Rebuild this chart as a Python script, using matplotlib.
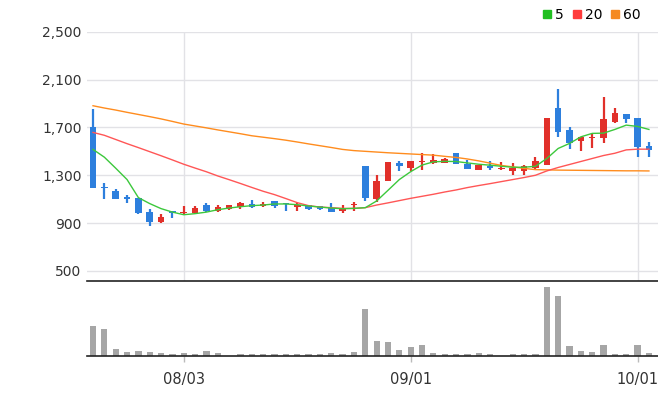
import matplotlib.pyplot as plt
from matplotlib.lines import Line2D

# dados (50 pregões)
abertura = [1700, 1205, 1166, 1118, 1110, 990, 908, 998, 981, 984,
            1048, 1001, 1020, 1034, 1063, 1043, 1082, 1071, 1034, 1048,
            1046, 1029, 998, 1054, 1375, 1101, 1252, 1406, 1361, 1409,
            1406, 1406, 1484, 1398, 1344, 1375, 1353, 1339, 1339, 1361,
            1386, 1862, 1677, 1588, 1610, 1613, 1747, 1812, 1778, 1543]
maxima = [1853, 1239, 1182, 1132, 1110, 1015, 973, 998, 1040, 1040,
          1068, 1048, 1052, 1076, 1090, 1073, 1082, 1071, 1065, 1048,
          1046, 1065, 1048, 1073, 1375, 1300, 1409, 1417, 1417, 1490,
          1476, 1448, 1484, 1426, 1384, 1417, 1409, 1403, 1386, 1451,
          1778, 2021, 1705, 1619, 1650, 1954, 1862, 1812, 1778, 1577]
minima = [1193, 1105, 1101, 1068, 979, 875, 900, 942, 970, 979,
          992, 992, 1012, 1015, 1029, 1037, 1026, 998, 998, 1006,
          1006, 992, 987, 998, 1085, 1076, 1252, 1336, 1336, 1344,
          1398, 1406, 1398, 1353, 1344, 1344, 1347, 1300, 1300, 1344,
          1386, 1621, 1518, 1504, 1529, 1571, 1739, 1739, 1453, 1453]
fechamento = [1193, 1193, 1101, 1099, 984, 908, 950, 981, 992, 1026,
              1001, 1034, 1048, 1068, 1037, 1063, 1040, 1057, 1054, 1015,
              1020, 992, 1023, 1063, 1110, 1250, 1409, 1378, 1417, 1417,
              1428, 1434, 1398, 1353, 1384, 1359, 1361, 1364, 1378, 1417,
              1778, 1663, 1571, 1619, 1619, 1770, 1820, 1767, 1537, 1507]
volume = [30, 27, 7, 4, 5, 4, 3, 2.2, 3, 2.2,
          5, 3, 0.5, 2.2, 2.2, 2.2, 2.2, 2.2, 2.2, 2.2,
          2.2, 3, 2.2, 4, 47, 15, 14, 6, 9, 11,
          3, 2.2, 2.2, 2.2, 3, 2.2, 0.5, 2.2, 2.2, 2.2,
          69, 60, 10, 5, 4, 11, 2.2, 2.2, 11, 3]
volume = [v * 1000 for v in volume]

ma5 = [1516, 1451, 1359, 1264, 1113, 1063, 1021, 992, 970, 979,
       992, 1012, 1026, 1037, 1046, 1051, 1060, 1060, 1054, 1043,
       1034, 1026, 1020, 1023, 1029, 1085, 1174, 1264, 1330, 1385,
       1412, 1416, 1415, 1403, 1392, 1384, 1375, 1367, 1367, 1375,
       1440, 1524, 1566, 1621, 1650, 1652, 1683, 1719, 1708, 1683]
ma20 = [1658, 1634, 1599, 1564, 1531, 1497, 1463, 1428, 1392, 1360,
        1329, 1294, 1263, 1231, 1198, 1166, 1138, 1105, 1071, 1046,
        1034, 1029, 1023, 1023, 1029, 1051, 1069, 1088, 1107, 1124,
        1141, 1160, 1177, 1197, 1214, 1230, 1247, 1264, 1281, 1300,
        1336, 1365, 1390, 1415, 1440, 1465, 1484, 1512, 1518, 1518]
ma60 = [1881, 1862, 1845, 1826, 1808, 1790, 1771, 1750, 1728, 1712,
        1696, 1679, 1663, 1647, 1630, 1618, 1606, 1593, 1578, 1562,
        1547, 1532, 1516, 1506, 1500, 1494, 1488, 1483, 1478, 1473,
        1468, 1458, 1449, 1436, 1420, 1401, 1382, 1370, 1357, 1347,
        1345, 1343, 1342, 1341, 1340, 1339, 1338, 1337, 1337, 1336]

rotulos_x = {8: "08/03", 28: "09/01", 48: "10/01"}
precos_y = [500, 900, 1300, 1700, 2100, 2500]

plt.rcParams['font.family'] = ['DejaVu Sans']

fig = plt.figure(figsize=(6.58, 4.08), dpi=100)
ax = fig.add_axes([87 / 658, 1 - 281 / 408, 1 - 87 / 658, (281 - 31.7) / 408])
axv = fig.add_axes([87 / 658, 1 - 356.3 / 408, 1 - 87 / 658, 75.3 / 408])

azul = '#2d7fdd'
vermelho = '#e1302a'
x = list(range(len(abertura)))
cores = [vermelho if c >= o else azul for o, c in zip(abertura, fechamento)]
base = [min(o, c) for o, c in zip(abertura, fechamento)]
altura = [max(abs(c - o), 6) for o, c in zip(abertura, fechamento)]

ax.vlines(x, minima, maxima, colors=cores, linewidth=1.6, zorder=3)
ax.bar(x, altura, bottom=base, width=0.58, color=cores, linewidth=0, zorder=4)

ax.plot(x, ma60, color='#ff8c1e', linewidth=1.0, zorder=5)
ax.plot(x, ma20, color='#ff5656', linewidth=1.0, zorder=5)
ax.plot(x, ma5, color='#3cc83c', linewidth=1.0, zorder=5)

ax.set_xlim(-0.53, 49.8)
ax.set_ylim(416, 2500)
ax.set_yticks(precos_y)
ax.set_yticklabels([f"{p:,}" for p in precos_y])
ax.set_xticks(list(rotulos_x.keys()))
ax.set_xticklabels([])
ax.tick_params(axis='y', length=0, pad=4, labelsize=10, labelcolor='#333333')
ax.tick_params(axis='x', length=0)
ax.grid(True, color='#e2e2e6', linewidth=1.0, zorder=0)
for lado in ['left', 'right', 'top', 'bottom']:
    ax.spines[lado].set_visible(False)

axv.bar(x, volume, width=0.55, color='#a6a6a6', linewidth=0)
axv.set_xlim(-0.53, 49.8)
axv.set_ylim(0, 75300)
axv.set_yticks([])
axv.set_xticks(list(rotulos_x.keys()))
axv.set_xticklabels(list(rotulos_x.values()))
axv.tick_params(axis='x', length=4, width=1, color='#bbbbbb', pad=7,
                labelsize=10.5, labelcolor='#333333')
for lado in ['left', 'right']:
    axv.spines[lado].set_visible(False)
for lado in ['top', 'bottom']:
    axv.spines[lado].set_color('#222222')
    axv.spines[lado].set_linewidth(1.2)

alcas = [Line2D([], [], marker='s', linestyle='', markersize=5.5, color=c)
         for c in ['#1fbf1f', '#ff3b3b', '#f5891f']]
fig.legend(alcas, ['5', '20', '60'], loc='upper right', ncol=3,
           bbox_to_anchor=(649 / 658, 1.0), frameon=False, fontsize=10,
           handlelength=0.7, handletextpad=0.2, columnspacing=0.6,
           borderaxespad=0.2)

fig.savefig('out.png', dpi=100)
